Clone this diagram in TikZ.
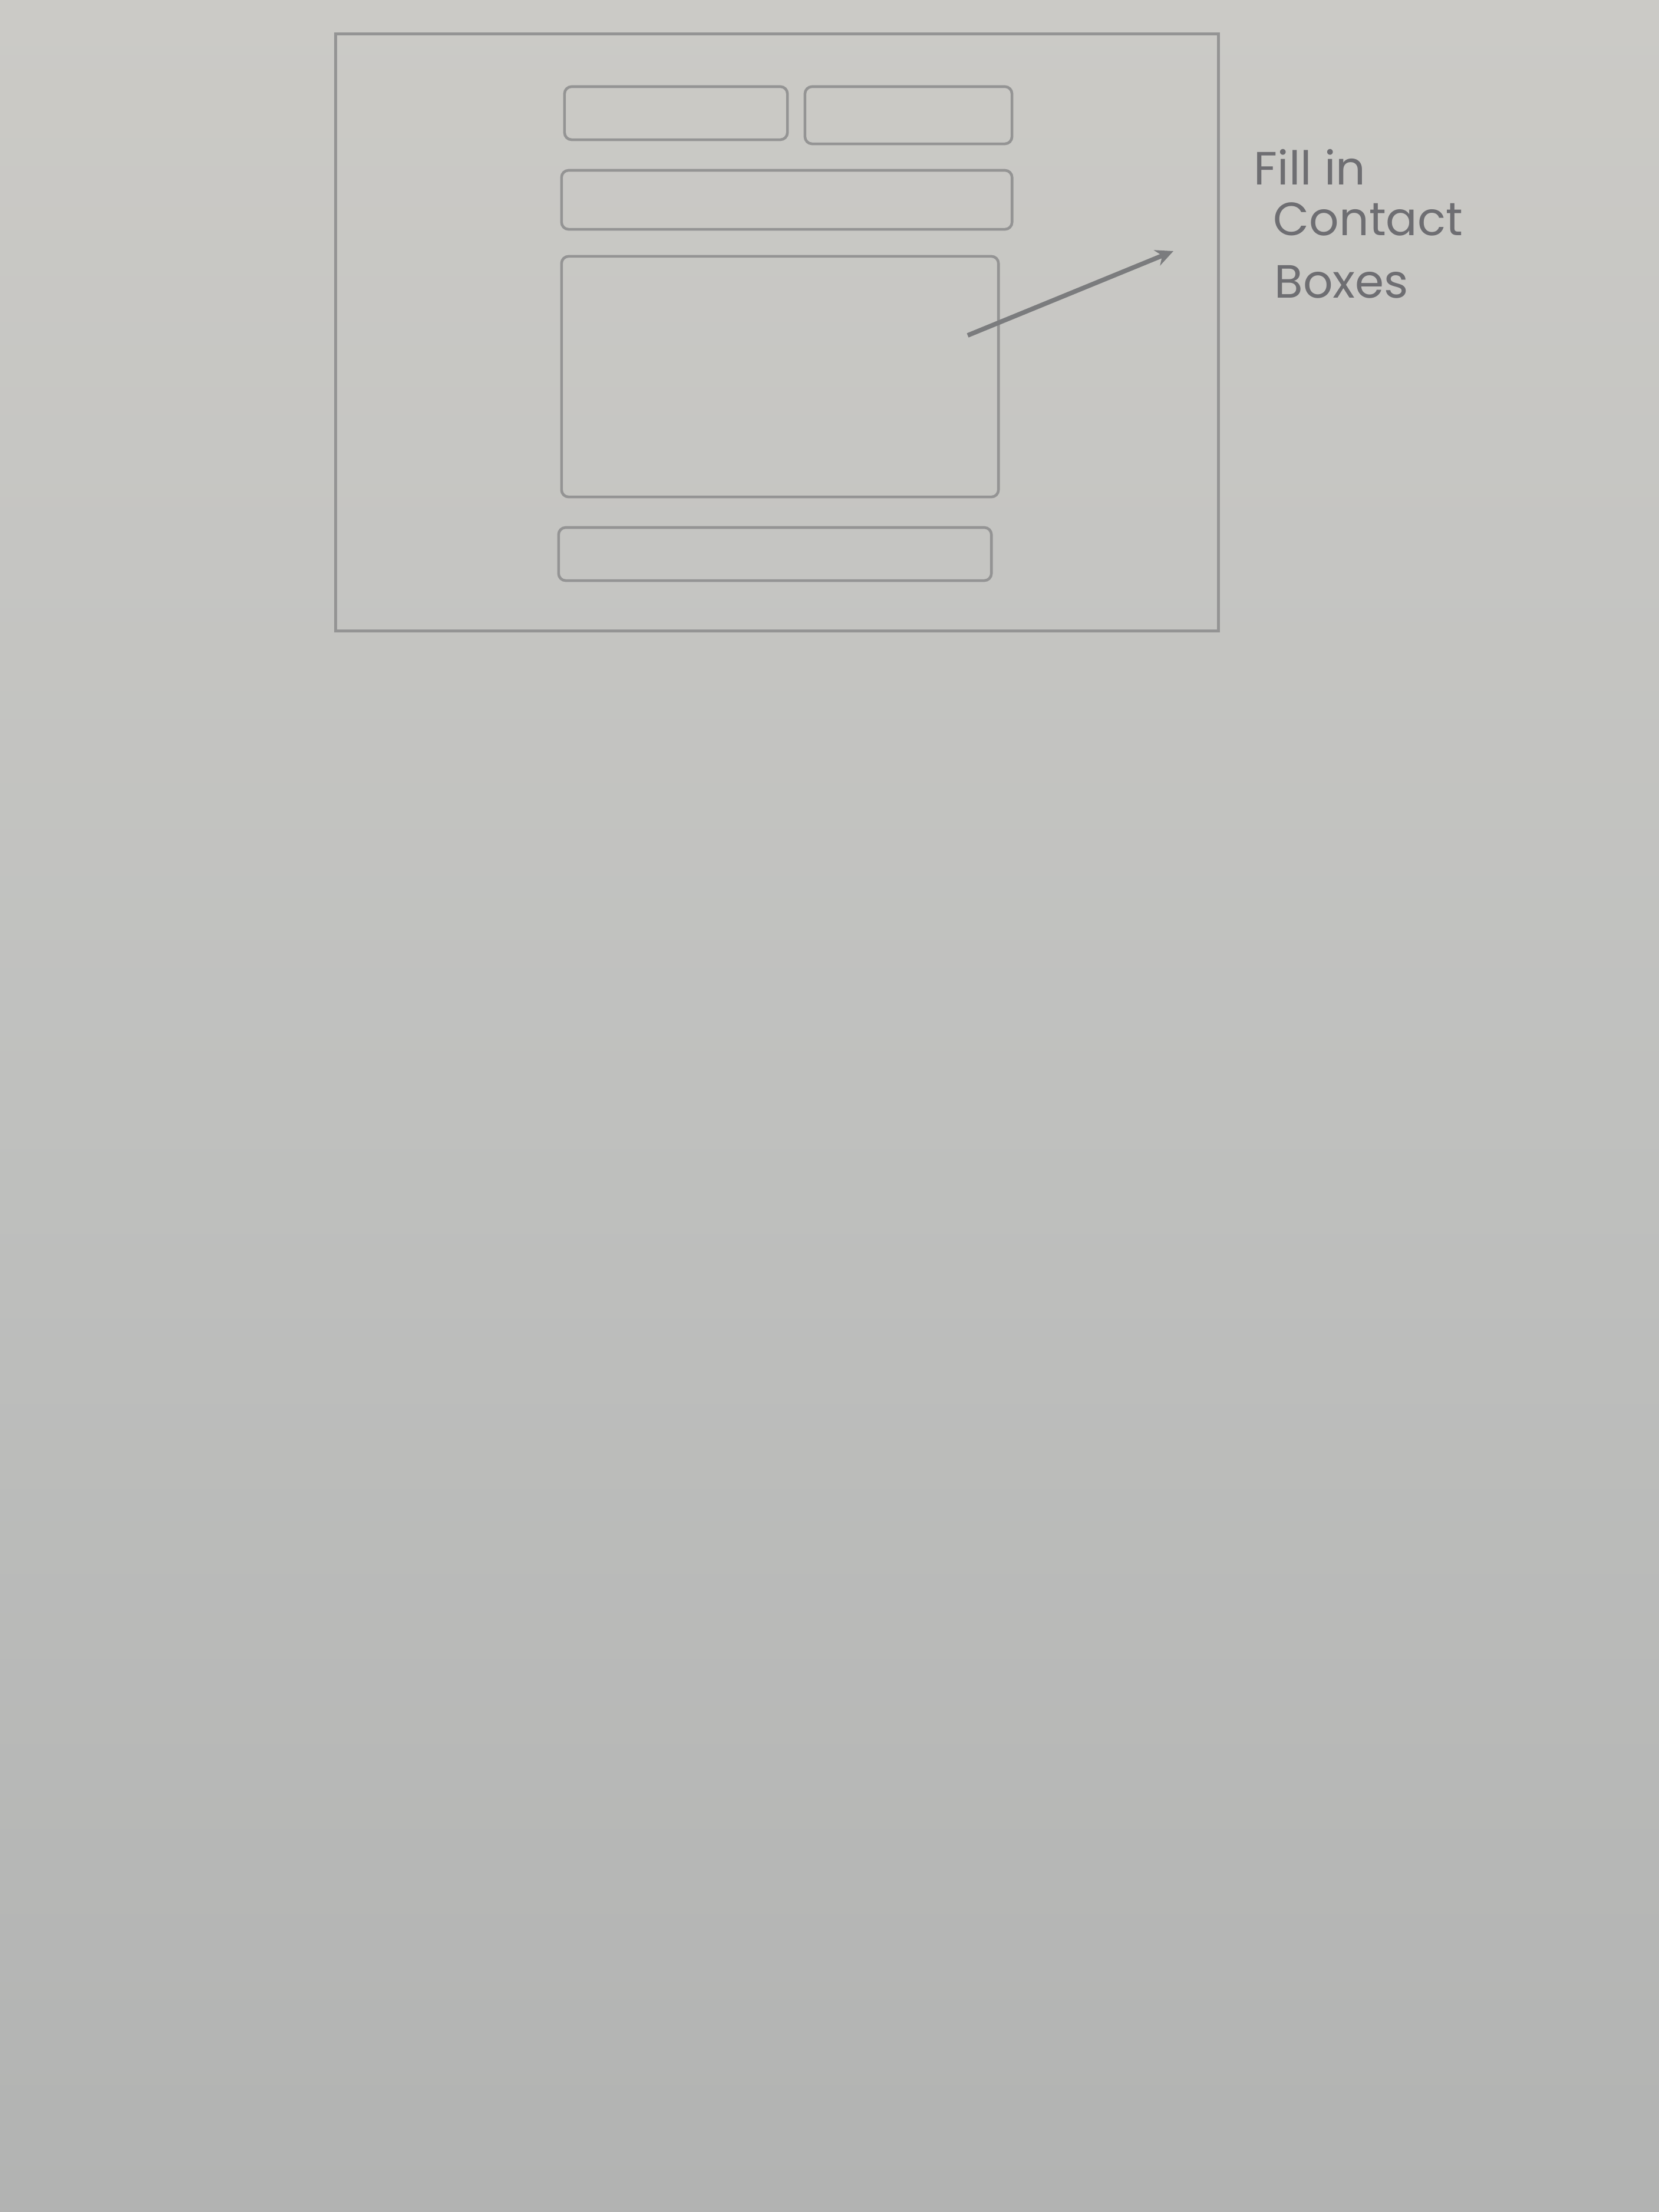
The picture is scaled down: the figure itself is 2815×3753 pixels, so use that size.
\documentclass[tikz,border=0pt]{standalone}
\usepackage{fontspec}
\setmainfont{Poppins}
\usetikzlibrary{arrows.meta}
\definecolor{papertop}{HTML}{CBCAC6}
\definecolor{papermid}{HTML}{BFC0BE}
\definecolor{paperbot}{HTML}{B2B3B2}
\definecolor{pencil}{HTML}{949494}
\definecolor{pencildark}{HTML}{7B7C7E}
\definecolor{inktext}{HTML}{6E6E72}
\tikzset{
  sketchbox/.style={draw=pencil, line width=1.3pt, rounded corners=0.12cm, inner sep=0pt},
  frame/.style={draw=pencil, line width=1.3pt, inner sep=0pt},
  note/.style={text=inktext, font=\fontsize{22.5}{27}\selectfont, anchor=west, inner sep=0pt},
  pointer/.style={draw=pencildark, line width=2.2pt, -{Stealth[length=0.3cm,width=0.28cm]}}
}
\begin{document}
\begin{tikzpicture}[x=0.01cm,y=-0.01cm]
\useasboundingbox (0,0) rectangle (2815,3753);
\fill[top color=papertop, bottom color=paperbot, middle color=papermid] (0,0) rectangle (2815,3753);
% outer frame
\node[frame, minimum width=14.97cm, minimum height=10.12cm] (frame) at (1318.5,564) {};
% form fields
\node[sketchbox, minimum width=3.78cm, minimum height=0.90cm] (first) at (1147,192) {};
\node[sketchbox, minimum width=3.51cm, minimum height=0.97cm] (last) at (1541.5,195.5) {};
\node[sketchbox, minimum width=7.64cm, minimum height=1.00cm] (email) at (1335,339) {};
\node[sketchbox, minimum width=7.41cm, minimum height=4.08cm] (message) at (1323.5,639) {};
\node[sketchbox, minimum width=7.34cm, minimum height=0.90cm] (submit) at (1315,940) {};
% note
\node[note] (l1) at (2127,283) {Fill in};
\node[note] (l2) at (2160,372) {Contact};
\node[note] (l3) at (2162,478) {Boxes};
\coordinate (tail) at (1642,569);
\coordinate (tip) at (1991,426);
\draw[pointer] (tail) -- (tip);
\end{tikzpicture}
\end{document}
